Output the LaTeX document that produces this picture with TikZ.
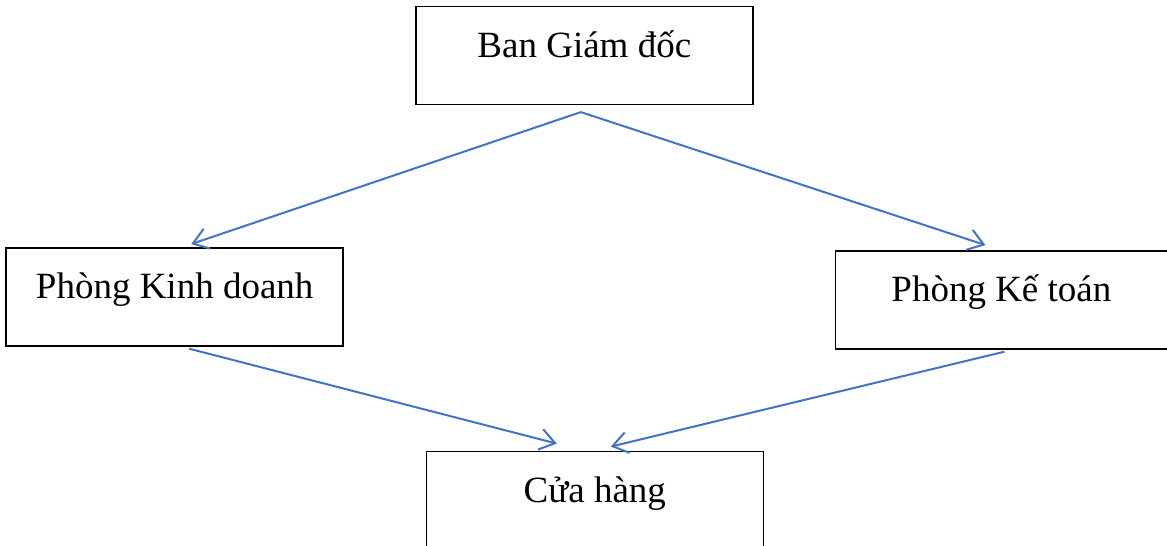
\documentclass[tikz,border=0pt]{standalone}
\usepackage{fontspec}
\setmainfont{Liberation Serif}
\usetikzlibrary{arrows.meta,positioning}
\definecolor{arrblue}{HTML}{4472C4}

\begin{document}
\begin{tikzpicture}[x=1pt, y=1pt,
  box/.style={draw=black, line width=1.6pt, inner sep=0pt, minimum width=337pt,
    text height=51pt, text depth=47pt, font=\fontsize{37}{44}\selectfont},
  link/.style={draw=arrblue, line width=2pt, -{Straight Barb[length=15pt, width=21pt]}}]
  \useasboundingbox (0,0) rectangle (1167,-546);
  \node[box, anchor=north west] (bgd) at (415,-5.5) {Ban Giám đốc};
  \node[box, below left=142pt and 71pt of bgd] (pkd) {Phòng Kinh doanh};
  \node[box, below right=145pt and 81pt of bgd, minimum width=332pt] (pkt) {Phòng Kế toán};
  \node[box, below=345.5pt of bgd, xshift=10.5pt] (ch) {Cửa hàng};
  \draw[link] ([xshift=-3.5pt, yshift=-7pt]bgd.south) -- ([xshift=16.5pt, yshift=3pt]pkd.north);
  \draw[link] ([xshift=-3.5pt, yshift=-7pt]bgd.south) -- ([xshift=-16pt, yshift=5pt]pkt.north);
  \draw[link] ([xshift=14.5pt, yshift=-2pt]pkd.south) -- ([xshift=-38pt, yshift=7pt]ch.north);
  \draw[link] ([xshift=3pt, yshift=-2pt]pkt.south) -- ([xshift=16pt, yshift=4pt]ch.north);
\end{tikzpicture}
\end{document}
